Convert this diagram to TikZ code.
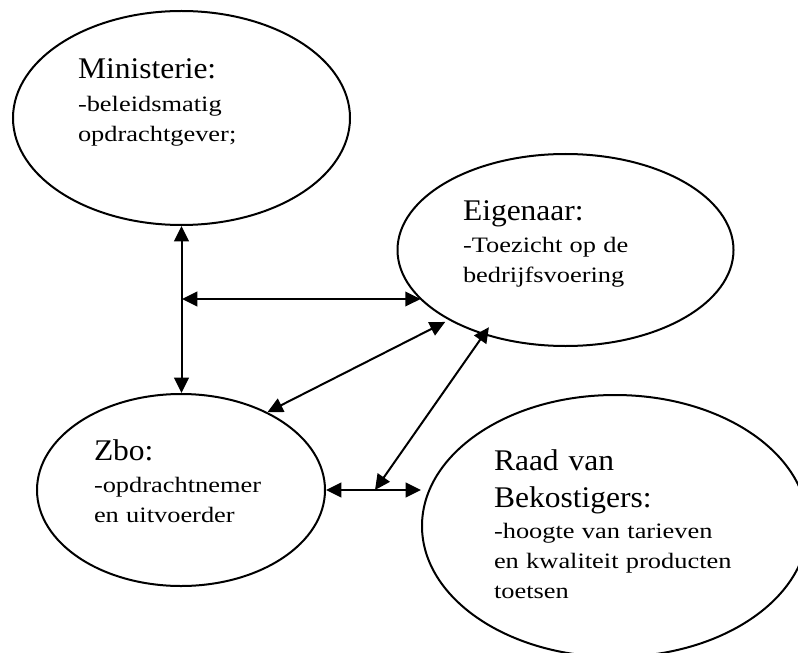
\documentclass[tikz,border=0pt]{standalone}
\usepackage{fontspec}
\setmainfont{Liberation Serif}
\newfontfamily\headfont{Liberation Serif}[FakeStretch=1.05]
\newfontfamily\bodyfont{Liberation Serif}[FakeStretch=1.2]
\usetikzlibrary{shapes.geometric,arrows.meta}

\tikzset{
  oval/.style={draw,ellipse,inner sep=0pt},
  head/.style={anchor=base west,inner sep=0pt,text width=200pt,align=left,
    font=\headfont\fontsize{22.5}{27.75}\selectfont},
  body/.style={anchor=base west,inner sep=0pt,text width=220pt,align=left,
    font=\bodyfont\fontsize{16.5}{22.5}\selectfont},
  link/.style={{Triangle[length=11.5pt,width=11pt]}-{Triangle[length=11.5pt,width=11pt]}}
}

\begin{document}
\begin{tikzpicture}[x=0.75pt,y=-0.75pt,line width=1.5pt]
  \useasboundingbox (0,0) rectangle (798,652);
  \clip (0,0) rectangle (798,652);
  \node (min) at (181.5,118) [oval,minimum width=252.75pt,minimum height=160.5pt] {};
  \node (eig) at (565.5,250) [oval,minimum width=252pt,minimum height=144pt] {};
  \node (zbo) at (181,490) [oval,minimum width=216pt,minimum height=144pt] {};
  \node (raad) at (615,526) [oval,minimum width=289.5pt,minimum height=196.5pt] {};

  \node (minhead) at (77,79) [head] {Ministerie:};
  \node (mintext) at (77,112) [body] {-beleidsmatig\\opdrachtgever;};
  \node (eighead) at (462,220) [head] {Eigenaar:};
  \node (eigtext) at (462,252) [body] {-Toezicht op de\\bedrijfsvoering};
  \node (zbohead) at (93,460) [head] {Zbo:};
  \node (zbotext) at (93,492) [body] {-opdrachtnemer\\en uitvoerder};
  \node (raadhead) at (493,470) [head] {Raad van\\Bekostigers:};
  \node (raadtext) at (493,538) [body] {-hoogte van tarieven\\en kwaliteit producten\\toetsen};

  \coordinate (j1) at (182,299);
  \coordinate (j2) at (375,490);
  \draw [link] (min.south) -- (min.south |- zbo.north);
  \draw [link] (j1) -- (j1 -| eig.199);
  \draw [link,shorten >=3pt] (zbo.42) -- (eig.211);
  \draw [link,shorten >=-7pt] (j2) -- (eig.226);
  \draw [link] (zbo.east) -- (raad.west |- zbo.east);
\end{tikzpicture}
\end{document}
